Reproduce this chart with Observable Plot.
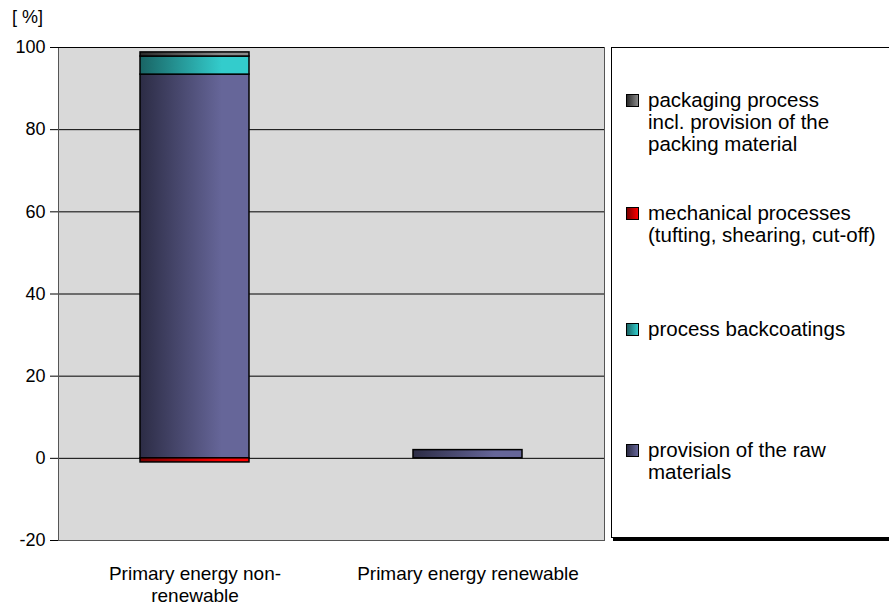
<!DOCTYPE html>
<html>
<head>
<meta charset="utf-8">
<script src="https://cdn.jsdelivr.net/npm/d3@7"></script>
<script src="https://cdn.jsdelivr.net/npm/@observablehq/plot@0.6"></script>
<style>
  html, body { margin: 0; padding: 0; background: #fff; }
  #wrap { position: relative; width: 889px; height: 612px; overflow: hidden; font-family: "Liberation Sans", Arial, sans-serif; }
  #unit { position: absolute; left: 12px; top: 7px; font-size: 18px; color: #000; }
  #legend { position: absolute; left: 611px; top: 47px; width: 300px; height: 489px; border: 1px solid #000; background: #fff; box-shadow: 2px 3px 0 #000; }
  .item { position: absolute; left: 14px; font-size: 20.5px; line-height: 22px; color: #000; }
  .sw { position: absolute; left: 0; top: 5px; width: 13px; height: 13px; border: 1px solid #000; box-sizing: border-box; }
  .txt { margin-left: 22px; white-space: nowrap; }
</style>
</head>
<body>
<div id="wrap">
  <div id="unit">[ %]</div>
  <div id="legend"></div>
</div>
<script>
// ---- data ----
const categories = ["Primary energy non-renewable", "Primary energy renewable"];
const categoryLabels = ["Primary energy non-\nrenewable", "Primary energy renewable"];
const seriesNames = [
  "provision of the raw materials",
  "mechanical processes (tufting, shearing, cut-off)",
  "process backcoatings",
  "packaging process incl. provision of the packing material"
];
const rawMaterials = [93.4, 2.0];
const mechanical   = [-1.0, 0];
const backcoatings = [4.4, 0];
const packaging    = [1.0, 0];
const yTicks = [-20, 0, 20, 40, 60, 80, 100];

const legendLabels = [
  "packaging process\nincl. provision of the\npacking material",
  "mechanical processes\n(tufting, shearing, cut-off)",
  "process backcoatings",
  "provision of the raw\nmaterials"
];

// gradient definitions [left, right]
const gradients = {
  raw:   ["#2c2c45", "#666699"],
  mech:  ["#7a0000", "#ff0000"],
  back:  ["#196464", "#33cccc"],
  pack:  ["#2a2a2a", "#8a8a8a"]
};
const seriesKeys = ["raw", "mech", "back", "pack"];
const seriesValues = [rawMaterials, mechanical, backcoatings, packaging];

const table = [];
categories.forEach((c, i) => {
  seriesKeys.forEach((k, s) => {
    table.push({category: c, series: seriesNames[s], key: k, value: seriesValues[s][i], fill: `url(#grad-${k})`});
  });
});

function defsMark() {
  const defs = d3.create("svg:defs");
  for (const k of seriesKeys) {
    const g = defs.append("linearGradient").attr("id", `grad-${k}`).attr("x1", 0).attr("x2", 1).attr("y1", 0).attr("y2", 0);
    g.append("stop").attr("offset", "0%").attr("stop-color", gradients[k][0]);
    g.append("stop").attr("offset", "75%").attr("stop-color", gradients[k][1]);
    g.append("stop").attr("offset", "100%").attr("stop-color", gradients[k][1]);
  }
  return defs.node();
}

const chart = Plot.plot({
  width: 889,
  height: 612,
  marginLeft: 58,
  marginRight: 285,
  marginTop: 47,
  marginBottom: 72,
  style: {fontFamily: "'Liberation Sans', Arial, sans-serif", fontSize: "18px", color: "#000", background: "transparent"},
  x: {domain: categories, paddingInner: 0.6, paddingOuter: 0.3, label: null},
  y: {domain: [-20, 100], label: null},
  color: {type: "identity"},
  marks: [
    defsMark,
    Plot.frame({fill: "#d9d9d9", stroke: null}),
    Plot.ruleY(yTicks.filter(d => d > -20 && d < 100), {stroke: "#000", strokeWidth: 1}),
    Plot.barY(table, Plot.stackY({x: "category", y: "value", z: "series", fill: "fill", stroke: "#000", strokeWidth: 1.5})),
    Plot.frame({stroke: "#555", strokeWidth: 1}),
    Plot.ruleX([0], {frameAnchor: "left", stroke: "#000"}),
    Plot.ruleY([100], {stroke: "#000"}),
    Plot.axisY({ticks: yTicks, tickSize: 8, tickPadding: 5, fontSize: 18, stroke: "#000", tickFormat: d => String(d)}),
    Plot.axisX({tickSize: 0, tickPadding: 24, fontSize: 19, lineHeight: 1.15,
      tickFormat: d => categoryLabels[categories.indexOf(d)]})
  ]
});
document.getElementById("wrap").prepend(chart);
chart.style.position = "absolute";
chart.style.left = "0";
chart.style.top = "0";

// legend
const legend = document.getElementById("legend");
const legendKeys = ["pack", "mech", "back", "raw"];
const legendTops = [41, 154, 270, 391];
legendKeys.forEach((k, i) => {
  const it = document.createElement("div");
  it.className = "item";
  it.style.top = legendTops[i] + "px";
  const sw = document.createElement("div");
  sw.className = "sw";
  sw.style.background = `linear-gradient(to right, ${gradients[k][0]}, ${gradients[k][1]})`;
  const tx = document.createElement("div");
  tx.className = "txt";
  tx.innerHTML = legendLabels[i].split("\n").join("<br>");
  it.appendChild(sw);
  it.appendChild(tx);
  legend.appendChild(it);
});
</script>
</body>
</html>
